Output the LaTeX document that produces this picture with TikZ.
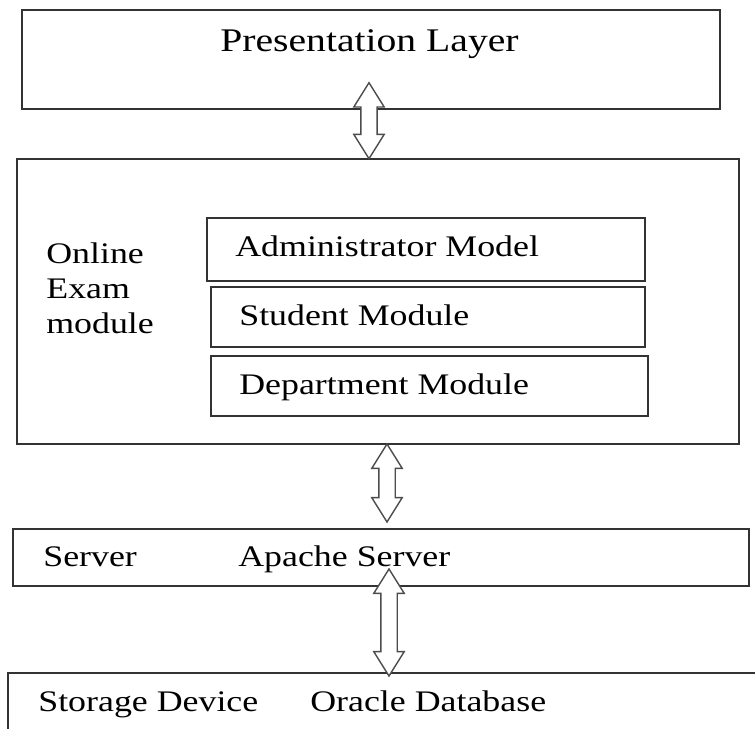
\documentclass[tikz,border=0pt]{standalone}
\usepackage{fontspec}
\setmainfont{Liberation Serif}[FakeStretch=1.2]
\usepackage{tikz}
\usetikzlibrary{calc,shapes,positioning}
\usetikzlibrary{shapes.arrows}

\begin{document}
\begin{tikzpicture}[x=0.02cm, y=-0.02cm]
        \tikzstyle{lbox} = [draw=black!80, line width=0.7pt, rectangle, inner sep=0pt]
        \tikzstyle{ltxt} = [inner sep=0pt, font=\fontsize{17}{20.2}\selectfont]
        \tikzstyle{dblarrow} = [double arrow, draw=black!70, fill=white, line width=0.8pt,
                shape border rotate=90, inner sep=0.15cm, minimum width=0.56cm,
                double arrow head extend=0.14cm, double arrow tip angle=64]

        \useasboundingbox (0,0) rectangle (755,729);

        \node[lbox, minimum width=13.96cm, minimum height=1.98cm] (pres) at (371,59.5) {};
        \node[ltxt, anchor=base west, font=\fontsize{18.8}{22}\selectfont] (prestxt) at (220,52) {Presentation Layer};

        \node[lbox, minimum width=14.44cm, minimum height=5.7cm] (main) at (378,301.5) {};
        \node[ltxt, anchor=base west, align=left] (exam) at (46,334) {Online\\Exam\\module};
        \node[lbox, minimum width=8.76cm, minimum height=1.26cm] (admin) at (426,249.5) {};
        \node[lbox, minimum width=8.68cm, minimum height=1.2cm] (stud) at (428,317) {};
        \node[lbox, minimum width=8.74cm, minimum height=1.2cm] (dept) at (429.5,386) {};
        \node[ltxt, anchor=base west] (admintxt) at (235,257) {Administrator Model};
        \node[ltxt, anchor=base west] (studtxt) at (239,326) {Student Module};
        \node[ltxt, anchor=base west] (depttxt) at (239,395) {Department Module};

        \node[lbox, minimum width=14.72cm, minimum height=1.14cm] (serv) at (381,557.5) {};
        \node[ltxt, anchor=base west] (servtxt) at (43,567) {Server};
        \node[ltxt, anchor=base west] (apache) at (238,567) {Apache Server};

        \node[lbox, minimum width=15.34cm, minimum height=1.74cm] (stor) at (391.5,716.5) {};
        \node[ltxt, anchor=base west] (stortxt) at (38,712) {Storage Device};
        \node[ltxt, anchor=base west] (oracle) at (310,712) {Oracle Database};

        \coordinate (a1top) at (369,83);
        \coordinate (a2top) at (387,444);
        \coordinate (a2bot) at (387,522);
        \coordinate (a3top) at (389,569);
        \coordinate (a3bot) at (389,676);

        \path (a1top) -- (a1top |- main.north) node[dblarrow, midway, minimum height=1.52cm] (arr1) {};
        \path (a2top) -- (a2bot) node[dblarrow, midway, minimum height=1.56cm] (arr2) {};
        \path (a3top) -- (a3bot) node[dblarrow, midway, minimum height=2.14cm] (arr3) {};
\end{tikzpicture}
\end{document}
